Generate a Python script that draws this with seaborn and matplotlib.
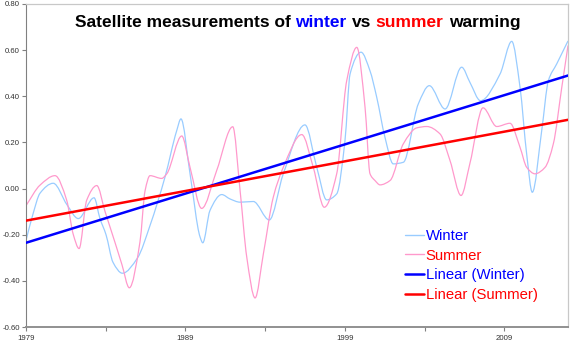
import matplotlib
matplotlib.use("Agg")
import matplotlib.pyplot as plt
import seaborn as sns
import numpy as np
import pandas as pd
from matplotlib.path import Path
from matplotlib.patches import PathPatch
from matplotlib.lines import Line2D
from matplotlib.ticker import FormatStrFormatter

sns.set_style("ticks")
plt.rcParams["font.family"] = ["Liberation Sans", "DejaVu Sans"]

# ---- data (key points of the smoothed curves) ----
winter_years = [1979.00, 1979.44, 1979.88, 1980.71, 1981.57, 1982.28, 1983.27, 1983.64, 1984.02,
                1984.46, 1985.05, 1986.00, 1986.78, 1987.72, 1988.45, 1988.72, 1989.29, 1989.92,
                1990.09, 1990.54, 1991.28, 1991.80, 1992.43, 1993.26, 1994.26, 1995.14, 1996.50,
                1997.24, 1997.86, 1998.49, 1999.01, 1999.33, 2000.02, 2000.58, 2001.00, 2001.52,
                2002.04, 2002.67, 2003.61, 2004.30, 2005.29, 2006.33, 2006.85, 2007.51, 2008.74,
                2009.47, 2009.99, 2010.41, 2010.76, 2011.35, 2011.77, 2012.29, 2013.00]
winter_values = [-0.225, -0.11, -0.02, 0.023, -0.07, -0.13, -0.04, -0.13, -0.20,
                 -0.32, -0.367, -0.30, -0.16, 0.05, 0.25, 0.302, 0.064, -0.21,
                 -0.235, -0.095, -0.026, -0.045, -0.059, -0.056, -0.136, 0.064, 0.276,
                 0.092, -0.049, -0.023, 0.208, 0.497, 0.591, 0.51, 0.396, 0.222,
                 0.107, 0.114, 0.367, 0.446, 0.345, 0.526, 0.46, 0.381, 0.497,
                 0.638, 0.439, 0.148, -0.016, 0.251, 0.468, 0.54, 0.64]

summer_years = [1979.00, 1979.88, 1980.82, 1981.55, 1981.97, 1982.33, 1982.81, 1983.44, 1983.96,
                1984.58, 1985.02, 1985.48, 1986.15, 1986.47, 1986.78, 1987.51, 1987.83, 1988.77,
                1989.29, 1990.02, 1990.96, 1991.97, 1992.43, 1992.85, 1993.37, 1993.89, 1994.51,
                1995.14, 1996.30, 1997.02, 1997.71, 1998.49, 1999.12, 1999.75, 2000.27, 2000.58,
                2000.89, 2001.21, 2001.84, 2002.67, 2003.51, 2004.14, 2004.97, 2005.60, 2006.29,
                2006.85, 2007.67, 2008.53, 2009.36, 2009.99, 2010.41, 2010.93, 2011.56, 2012.08,
                2012.61, 2013.00]
summer_values = [-0.074, 0.015, 0.056, -0.05, -0.20, -0.26, -0.05, 0.013, -0.10,
                 -0.233, -0.33, -0.43, -0.231, -0.009, 0.056, 0.044, 0.064, 0.228,
                 0.092, -0.086, 0.078, 0.268, -0.009, -0.298, -0.474, -0.283, -0.038,
                 0.092, 0.234, 0.092, -0.081, 0.064, 0.468, 0.612, 0.351, 0.064,
                 0.035, 0.016, 0.035, 0.194, 0.263, 0.269, 0.237, 0.121, -0.03,
                 0.11, 0.35, 0.269, 0.283, 0.179, 0.092, 0.064, 0.092, 0.194,
                 0.439, 0.62]

trend_years = [1979, 2013]
winter_trend = [-0.235, 0.49]
summer_trend = [-0.139, 0.298]

x_major_ticks = [1979, 1989, 1999, 2009]
x_minor_ticks = [1984, 1994, 2004]
x_tick_labels = ["1979", "1989", "1999", "2009"]
y_ticks = [-0.6, -0.4, -0.2, 0.0, 0.2, 0.4, 0.6, 0.8]
legend_labels = ["Winter", "Summer", "Linear (Winter)", "Linear (Summer)"]

LIGHT_BLUE = "#99ccff"
PINK = "#ff99cc"
BLUE = "#0000ff"
RED = "#ff0000"

W, H, DPI = 570, 345, 100
fig = plt.figure(figsize=(W / DPI, H / DPI), dpi=DPI)
ax = fig.add_axes([26 / W, 1 - 327 / H, 542 / W, 323 / H])


def smooth_path(xs, ys):
    """Smooth curve through the points as cubic Bezier segments (monotone Hermite tangents)."""
    x = np.asarray(xs, float)
    y = np.asarray(ys, float)
    h = np.diff(x)
    d = np.diff(y) / h
    m = np.zeros_like(y)
    for k in range(1, len(x) - 1):
        if d[k - 1] * d[k] > 0:
            w1 = 2 * h[k] + h[k - 1]
            w2 = h[k] + 2 * h[k - 1]
            m[k] = (w1 + w2) / (w1 / d[k - 1] + w2 / d[k])
    m[0] = d[0]
    m[-1] = d[-1]
    verts = [(x[0], y[0])]
    codes = [Path.MOVETO]
    for k in range(len(x) - 1):
        verts += [(x[k] + h[k] / 3, y[k] + m[k] * h[k] / 3),
                  (x[k + 1] - h[k] / 3, y[k + 1] - m[k + 1] * h[k] / 3),
                  (x[k + 1], y[k + 1])]
        codes += [Path.CURVE4] * 3
    return Path(verts, codes)


ax.add_patch(PathPatch(smooth_path(winter_years, winter_values), fill=False,
                       edgecolor=LIGHT_BLUE, lw=0.9, zorder=2))
ax.add_patch(PathPatch(smooth_path(summer_years, summer_values), fill=False,
                       edgecolor=PINK, lw=0.9, zorder=2))

trend_df = pd.DataFrame({
    "year": trend_years + trend_years,
    "value": winter_trend + summer_trend,
    "series": ["Linear (Winter)"] * 2 + ["Linear (Summer)"] * 2,
})
sns.lineplot(data=trend_df, x="year", y="value", hue="series",
             palette={"Linear (Winter)": BLUE, "Linear (Summer)": RED},
             lw=1.8, ax=ax, legend=False, zorder=3)

ax.set_xlim(1979, 2013)
ax.set_ylim(-0.6, 0.8)
ax.set_xlabel("")
ax.set_ylabel("")
ax.set_xticks(x_major_ticks)
ax.set_xticklabels(x_tick_labels)
ax.set_xticks(x_minor_ticks, minor=True)
ax.set_yticks(y_ticks)
ax.yaxis.set_major_formatter(FormatStrFormatter("%.2f"))
ax.tick_params(axis="both", which="both", direction="out", length=3.2, width=0.8,
               color="#808080", labelsize=5.6, labelcolor="#333333",
               bottom=True, left=True, top=False, right=False)
ax.tick_params(axis="y", pad=1.2)
ax.tick_params(axis="x", pad=2.5)

ax.spines["left"].set_color("#808080")
ax.spines["left"].set_linewidth(0.8)
ax.spines["bottom"].set_color("#909090")
ax.spines["bottom"].set_linewidth(1.4)
ax.spines["top"].set_color("#c8c8c8")
ax.spines["top"].set_linewidth(0.9)
ax.spines["right"].set_color("#c8c8c8")
ax.spines["right"].set_linewidth(0.9)
ax.grid(False)

# ---- legend ----
handles = [Line2D([], [], color=LIGHT_BLUE, lw=1.0),
           Line2D([], [], color=PINK, lw=1.0),
           Line2D([], [], color=BLUE, lw=1.8),
           Line2D([], [], color=RED, lw=1.8)]
leg = fig.legend(handles, legend_labels, loc="upper left",
                 bbox_to_anchor=(405 / W, 1 - 229 / H), frameon=False,
                 fontsize=10.7, handlelength=1.25, handletextpad=0.15,
                 labelspacing=0.38, borderpad=0, borderaxespad=0)
for t, c in zip(leg.get_texts(), [BLUE, RED, BLUE, RED]):
    t.set_color(c)

# ---- multi-coloured title ----
title_parts = [("Satellite measurements of", "black"), ("winter", BLUE), ("vs", "black"),
               ("summer", RED), ("warming", "black")]
full_title = " ".join(p for p, _ in title_parts)
renderer = fig.canvas.get_renderer()
tprops = dict(fontsize=12.5, fontweight="bold")


def text_width(s):
    t = fig.text(0, 0, s, **tprops)
    w = t.get_window_extent(renderer).width
    t.remove()
    return w


total_w = text_width(full_title)
left_px = 297.5 - total_w / 2
base_y = 1 - 26.7 / H
prefix = ""
for i, (part, col) in enumerate(title_parts):
    prefix = part if i == 0 else prefix + " " + part
    x_px = left_px + text_width(prefix) - text_width(part)
    fig.text(x_px / W, base_y, part, color=col, ha="left", va="baseline", **tprops)

fig.savefig("out.png", dpi=DPI)
